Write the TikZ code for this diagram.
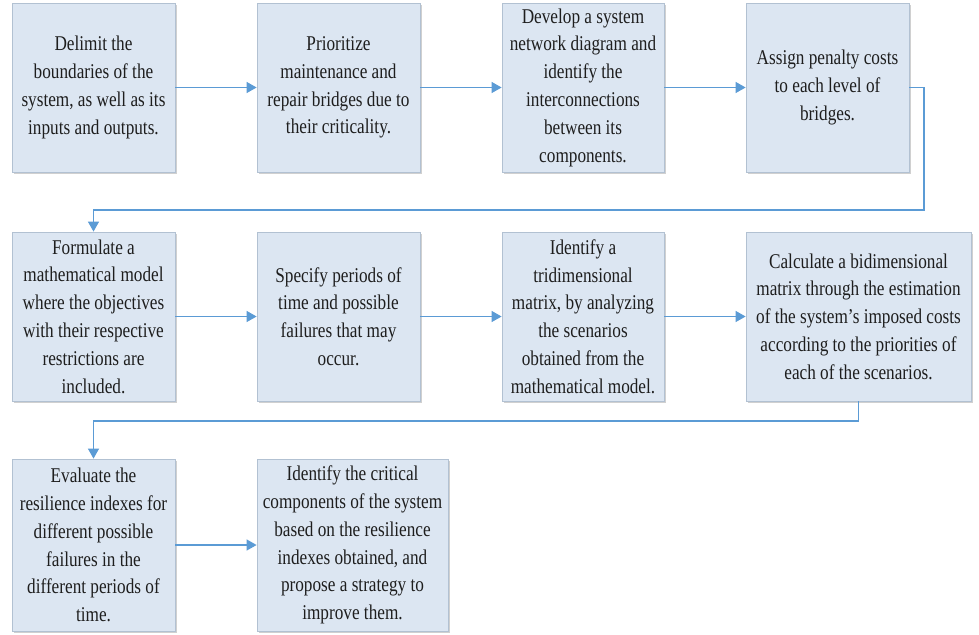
\documentclass[tikz,border=0pt]{standalone}
\usepackage{fontspec}
\newfontfamily\boxfont[FakeStretch=0.82]{Liberation Serif}
\usetikzlibrary{arrows.meta,shadows}
\definecolor{boxfill}{HTML}{DCE6F2}
\definecolor{boxline}{HTML}{B2C1D2}
\definecolor{arrowc}{HTML}{5B9BD5}
\definecolor{txt}{HTML}{1E1E1E}
\tikzset{
  stepbox/.style={draw=boxline, line width=0.8pt, fill=boxfill, inner sep=0pt,
    align=center, text=txt, font=\boxfont\fontsize{21}{27.8}\selectfont,
    drop shadow={shadow xshift=1.5pt, shadow yshift=-1.8pt, fill=black!30, opacity=0.6}},
  flow/.style={draw=arrowc, line width=1.3pt, -{Triangle[length=10pt,width=11pt]}}
}
\begin{document}
\begin{tikzpicture}[x=1pt,y=1pt]
\useasboundingbox[fill=white] (0,0) rectangle (979,-634);
% row 1
\node[stepbox, minimum width=163pt, minimum height=169pt] (b1) at (93.5,-87.5)
  {Delimit the\\ boundaries of the\\ system, as well as its\\ inputs and outputs.};
\node[stepbox, minimum width=163pt, minimum height=169pt] (b2) at (338.5,-87.5)
  {Prioritize\\ maintenance and\\ repair bridges due to\\ their criticality.};
\node[stepbox, minimum width=162pt, minimum height=169pt] (b3) at (583,-87.5)
  {Develop a system\\ network diagram and\\ identify the\\ interconnections\\ between its\\ components.};
\node[stepbox, minimum width=163pt, minimum height=169pt] (b4) at (827.5,-87.5)
  {Assign penalty costs\\ to each level of\\ bridges.};
% row 2
\node[stepbox, minimum width=163pt, minimum height=169pt] (b5) at (93.5,-316.5)
  {Formulate a\\ mathematical model\\ where the objectives\\ with their respective\\ restrictions are\\ included.};
\node[stepbox, minimum width=163pt, minimum height=169pt] (b6) at (338.5,-316.5)
  {Specify periods of\\ time and possible\\ failures that may\\ occur.};
\node[stepbox, minimum width=162pt, minimum height=169pt] (b7) at (583,-316.5)
  {Identify a\\ tridimensional\\ matrix, by analyzing\\ the scenarios\\ obtained from the\\ mathematical model.};
\node[stepbox, minimum width=225pt, minimum height=169pt] (b8) at (858.5,-316.5)
  {Calculate a bidimensional\\ matrix through the estimation\\ of the system’s imposed costs\\ according to the priorities of\\ each of the scenarios.};
% row 3
\node[stepbox, minimum width=163pt, minimum height=172pt] (b9) at (93.5,-545)
  {Evaluate the\\ resilience indexes for\\ different possible\\ failures in the\\ different periods of\\ time.};
\node[stepbox, minimum width=191pt, minimum height=172pt] (b10) at (352.5,-545)
  {Identify the critical\\ components of the system\\ based on the resilience\\ indexes obtained, and\\ propose a strategy to\\ improve them.};
% connectors
\draw[flow] (b1) -- (b2);
\draw[flow] (b2) -- (b3);
\draw[flow] (b3) -- (b4);
\draw[flow] (b4.east) -- (924,-87.5) -- (924,-210) -- (93.5,-210) -- (b5.north);
\draw[flow] (b5) -- (b6);
\draw[flow] (b6) -- (b7);
\draw[flow] (b7) -- (b8);
\draw[flow] (b8.south) -- (858.5,-421) -- (93.5,-421) -- (b9.north);
\draw[flow] (b9.east |- 0,-545) -- (b10.west |- 0,-545);
\end{tikzpicture}
\end{document}
